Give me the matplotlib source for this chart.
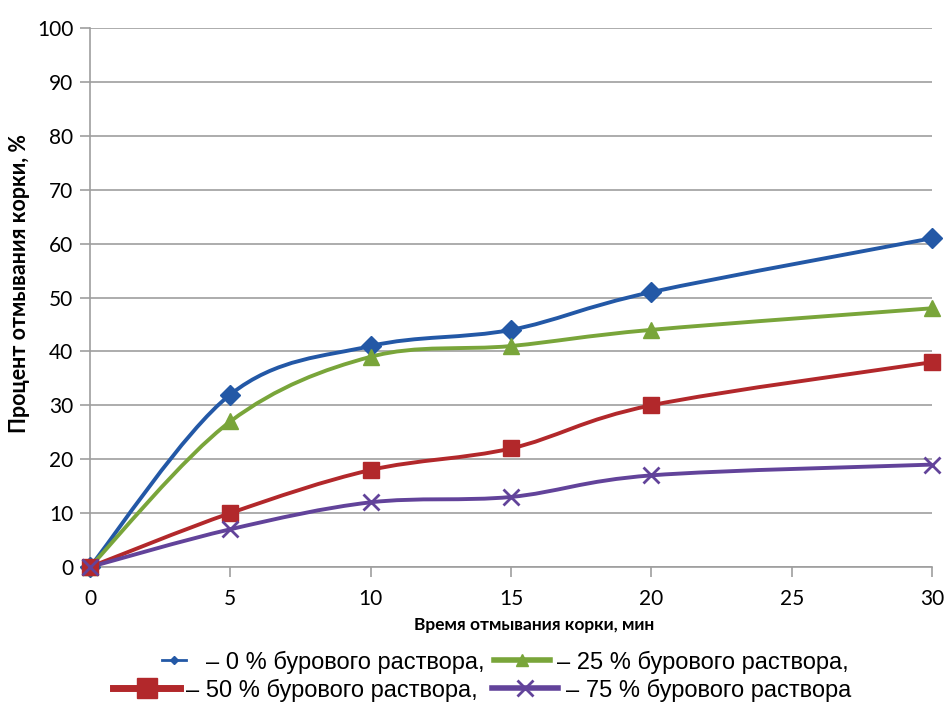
import numpy as np
import matplotlib.pyplot as plt
from matplotlib.path import Path
from matplotlib.patches import PathPatch
from matplotlib.lines import Line2D

# время отмывания, мин
time_min = [0, 5, 10, 15, 20, 30]

# процент отмывания корки при разной доле бурового раствора
wash_0 = [0, 32, 41, 44, 51, 61]
wash_25 = [0, 27, 39, 41, 44, 48]
wash_50 = [0, 10, 18, 22, 30, 38]
wash_75 = [0, 7, 12, 13, 17, 19]

labels = ["– 0 % бурового раствора,", "– 25 % бурового раствора,",
          "– 50 % бурового раствора,", "– 75 % бурового раствора"]
colors = ["#2358A6", "#79A53A", "#B2282B", "#62439A"]
markers = ["D", "^", "s", "x"]

num_font = ["Lato", "DejaVu Sans"]
leg_font = ["Liberation Sans", "DejaVu Sans"]


def smooth_path(x, y):
    # кривая Безье через точки (сглаживание как в Excel)
    pts = np.column_stack([x, y]).astype(float)
    ext = np.vstack([pts[0], pts, pts[-1]])
    verts = [pts[0]]
    codes = [Path.MOVETO]
    for i in range(len(pts) - 1):
        p0, p1, p2, p3 = ext[i], ext[i + 1], ext[i + 2], ext[i + 3]
        c1 = p1 + (p2 - p0) / 6
        c2 = p2 - (p3 - p1) / 6
        verts += [c1, c2, p2]
        codes += [Path.CURVE4] * 3
    return Path(verts, codes)


W, H = 946, 702
fig = plt.figure(figsize=(W / 100, H / 100), dpi=100)
ax = fig.add_axes([0.0951, 0.1923, 0.8901, 0.7678])

series = [wash_0, wash_25, wash_50, wash_75]
for vals, c, m in zip(series, colors, markers):
    patch = PathPatch(smooth_path(time_min, vals), fill=False, edgecolor=c,
                      lw=2.8, transform=ax.transData, zorder=3, clip_on=False)
    ax.add_patch(patch)
    if m == "x":
        ax.plot(time_min, vals, linestyle="none", marker=m, ms=11, mew=2,
                color=c, zorder=4, clip_on=False)
    else:
        ax.plot(time_min, vals, linestyle="none", marker=m,
                ms=10 if m == "D" else 12, color=c, zorder=4, clip_on=False)

ax.set_xlim(0, 30)
ax.set_ylim(0, 100)
ax.set_xticks(np.arange(0, 31, 5))
ax.set_yticks(np.arange(0, 101, 10))
ax.grid(axis="y", color="#9E9E9E", lw=1.2, zorder=0)
ax.set_axisbelow(True)
for s in ["top", "right"]:
    ax.spines[s].set_visible(False)
for s in ["left", "bottom"]:
    ax.spines[s].set_color("#9E9E9E")
    ax.spines[s].set_linewidth(1.2)
ax.tick_params(axis="both", colors="#9E9E9E", length=7, width=1.2,
               labelcolor="black", labelsize=15)
ax.tick_params(axis="x", pad=9)
ax.tick_params(axis="y", pad=5)
for t in ax.get_xticklabels() + ax.get_yticklabels():
    t.set_family(num_font)

ax.set_xlabel("Время отмывания корки, мин", family=num_font,
              fontweight="bold", fontsize=12.5)
ax.set_ylabel("Процент отмывания корки, %", family=num_font,
              fontweight="bold", fontsize=15.5)
ax.xaxis.set_label_coords(0.528, -0.092)
ax.yaxis.set_label_coords(-0.071, 0.526)


# легенда под графиком, две строки
def legend_item(x0, x1, y, color, marker, lw, ms, mew, text, tx):
    yf = 1 - y / H
    fig.add_artist(Line2D([x0 / W, x1 / W], [yf, yf], color=color, lw=lw,
                          transform=fig.transFigure))
    fig.add_artist(Line2D([(x0 + x1) / 2 / W], [yf], color=color, marker=marker,
                          ms=ms, mew=mew, linestyle="none",
                          transform=fig.transFigure))
    fig.text(tx / W, yf, text, family=leg_font, fontsize=17,
             ha="left", va="center_baseline")


legend_item(162, 186, 660, colors[0], "D", 2, 4, 1, labels[0], 206)
legend_item(494, 550, 660, colors[1], "^", 4, 9, 1, labels[1], 557)
legend_item(113, 180, 688, colors[2], "s", 5, 14, 1, labels[2], 186)
legend_item(492, 558, 688, colors[3], "x", 4, 12, 2, labels[3], 566)

fig.savefig("out.png", dpi=100)
